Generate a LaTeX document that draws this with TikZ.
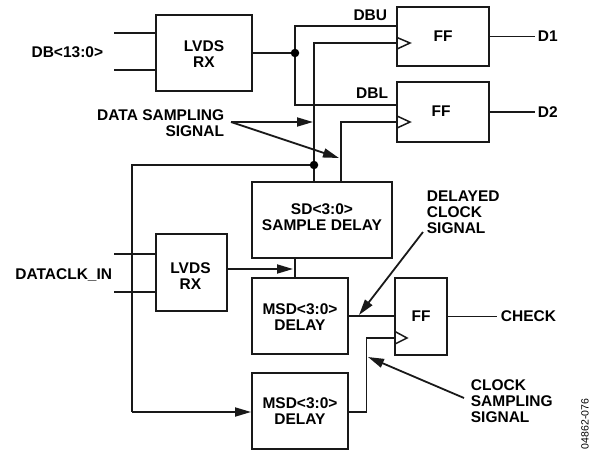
\documentclass[tikz,border=0pt]{standalone}
\usepackage{fontspec}
\setmainfont{Liberation Sans}
\usetikzlibrary{arrows.meta}
\begin{document}
\begin{tikzpicture}[x=1pt,y=-1pt,line width=1.8pt,
  lbl/.style={font=\fontsize{15.5}{16}\selectfont\bfseries,inner sep=0pt,align=center},
  lbll/.style={lbl,align=left,anchor=west},
  lblr/.style={lbl,align=right,anchor=east},
  blk/.style={draw=black!90,line width=1.9pt,fill=none,inner sep=0pt},
  wire/.style={draw=black!90,line width=1.8pt,line cap=butt},
  arr/.style={wire,-{Triangle[length=16pt,width=9pt]}},
  dotn/.style={circle,fill=black,inner sep=0pt,minimum size=8.5pt}]
\useasboundingbox (0,0) rectangle (590,453);
% blocks
\node[blk,minimum width=96pt,minimum height=76pt] (lv1) at (204,53) {};
\node[lbl] (tlv1) at (204,54) {LVDS\\RX};
\node[blk,minimum width=92pt,minimum height=59pt] (ff1) at (443,36.5) {};
\node[lbl] (tff1) at (443,36) {FF};
\node[blk,minimum width=92pt,minimum height=60pt] (ff2) at (443,112) {};
\node[lbl] (tff2) at (441,111) {FF};
\node[blk,minimum width=140pt,minimum height=76pt] (sd) at (322,220) {};
\node[lbl] (tsd) at (322,217.5) {SD<3:0>\\SAMPLE DELAY};
\node[blk,minimum width=71pt,minimum height=77pt] (lv2) at (191.5,272.5) {};
\node[lbl] (tlv2) at (190.5,276) {LVDS\\RX};
\node[blk,minimum width=96pt,minimum height=76pt] (m1) at (300,316) {};
\node[lbl] (tm1) at (300,317) {MSD<3:0>\\DELAY};
\node[blk,minimum width=96pt,minimum height=76pt] (m2) at (300,411) {};
\node[lbl] (tm2) at (300,411) {MSD<3:0>\\DELAY};
\node[blk,minimum width=52pt,minimum height=77pt] (ff3) at (421,316.5) {};
\node[lbl] (tff3) at (421,316) {FF};
% labels
\node[lblr] (tdb) at (104,52.5) {DB<13:0>};
\node[lblr] (tdbu) at (388,15.5) {DBU};
\node[lblr] (tdbl) at (389,93) {DBL};
\node[lblr] (tds) at (225,123) {DATA SAMPLING\\SIGNAL};
\node[lblr] (tdc) at (113,275) {DATACLK\_IN};
\node[lbll] (td1) at (537,36.5) {D1};
\node[lbll] (td2) at (537,112) {D2};
\node[lbll] (tchk) at (500,316.5) {CHECK};
\node[lbll] (tdly) at (426,212.5) {DELAYED\\CLOCK\\SIGNAL};
\node[lbll] (tclk) at (470,401) {CLOCK\\SAMPLING\\SIGNAL};
\node[rotate=90,inner sep=0pt,font=\fontsize{10.5}{10.5}\selectfont] (tid) at (585,424) {04862-076};
% coordinates
\coordinate (j1) at (295,53);
\coordinate (j2) at (314,165);
\coordinate (i1a) at (114,33); \coordinate (i1b) at (114,70);
\coordinate (i2a) at (114,254); \coordinate (i2b) at (114,292);
\coordinate (o1) at (535,36.5); \coordinate (o2) at (535,112); \coordinate (o3) at (497,316.5);
\coordinate (ds) at (231,122);
% wires
\draw[wire] (i1a) -- (i1a -| lv1.west);
\draw[wire] (i1b) -- (i1b -| lv1.west);
\draw[wire] (i2a) -- (i2a -| lv2.west);
\draw[wire] (i2b) -- (i2b -| lv2.west);
\draw[wire] (lv1.east |- j1) -- (j1);
\draw[wire] (j1 |- 0,26) -- (ff1.west |- 0,26);
\draw[wire] (j1 |- 0,105) -- (ff2.west |- 0,105);
\draw[wire] (j1 |- 0,25.1) -- (j1 |- 0,105.9);
\draw[wire] (ff1.west |- 0,43) -- (314,43) -- (314,182);
\draw[wire] (ff2.west |- 0,122) -- (341,122) -- (341,182);
\draw[blk,line width=1.5pt,line join=miter] (397,37.5) -- (410,43) -- (397,49);
\draw[blk,line width=1.5pt,line join=miter] (397,116) -- (410,122) -- (397,128);
\draw[blk,line width=1.5pt,line join=miter] (395,331.5) -- (407,338) -- (395,344);
\draw[wire] (ff1.east) -- (o1);
\draw[wire] (ff2.east) -- (o2);
\draw[wire] (ff3.east) -- (o3);
\draw[wire] (j2) -- (132,165) -- (132,412);
\draw[arr] (132,412) -- (m2.west |- 0,412);
\draw[arr] (lv2.east |- 0,269) -- (293,269);
\draw[wire,line width=1.3pt] (295,258) -- (295,278);
\draw[wire] (m1.east) -- (ff3.west |- m1.east);
\draw[wire] (ff3.west |- 0,338) -- (366.5,338) -- (366.5,412) -- (m2.east |- 0,412);
\draw[arr] (ds) -- (313,122);
\draw[arr] (ds) -- (339,158);
\draw[arr] (423,232) -- (359,315);
\draw[arr] (464,398) -- (368,357);
\node[dotn] (d1) at (j1) {};
\node[dotn] (d2) at (j2) {};
\end{tikzpicture}
\end{document}
